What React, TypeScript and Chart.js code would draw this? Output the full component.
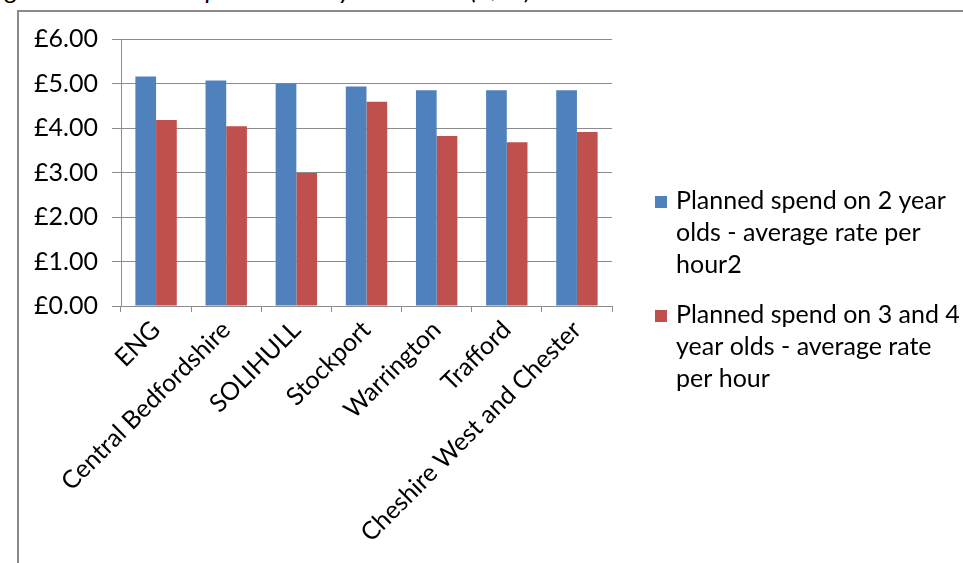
import React, { useEffect, useRef } from "react";
import { Chart, registerables } from "chart.js";

Chart.register(...registerables);

const categories = [
  "ENG",
  "Central Bedfordshire",
  "SOLIHULL",
  "Stockport",
  "Warrington",
  "Trafford",
  "Cheshire West and Chester",
];
const twoYearOlds = [5.16, 5.07, 5.0, 4.93, 4.85, 4.85, 4.85];
const threeFourYearOlds = [4.18, 4.04, 2.99, 4.59, 3.82, 3.68, 3.91];
const seriesLabels = [
  "Planned spend on 2 year olds - average rate per hour2",
  "Planned spend on 3 and 4 year olds - average rate per hour",
];
const legendLines = [
  ["Planned spend on 2 year", "olds - average rate per", "hour2"],
  ["Planned spend on 3 and 4", "year olds - average rate", "per hour"],
];
const titleText = "Figure 14: Planned spend on early education (£/hr)";
const yMin = 0;
const yMax = 6;
const yStep = 1;

const BLUE = "#4F81BD";
const RED = "#C0504D";
const GRID = "#8c8c8c";
const FONT_FAMILY = "Lato, 'Open Sans', sans-serif";

const legendPlugin = {
  id: "wrappedLegend",
  afterDraw(chart: any) {
    const ctx = chart.ctx;
    const colors = [BLUE, RED];
    const firstLineY = [201, 315];
    ctx.save();
    ctx.font = `25px ${FONT_FAMILY}`;
    ctx.textBaseline = "middle";
    ctx.textAlign = "left";
    legendLines.forEach((lines, i) => {
      ctx.fillStyle = colors[i];
      ctx.fillRect(655, firstLineY[i] - 5, 12, 12);
      ctx.fillStyle = "#000";
      lines.forEach((line, j) => {
        ctx.fillText(line, 676, firstLineY[i] + j * 32);
      });
    });
    ctx.restore();
  },
};

export default function App() {
  const canvasRef = useRef<HTMLCanvasElement | null>(null);

  useEffect(() => {
    document.body.style.margin = "0";
    const canvas = canvasRef.current;
    if (!canvas) return;
    const chart = new Chart(canvas, {
      type: "bar",
      data: {
        labels: categories,
        datasets: [
          {
            label: seriesLabels[0],
            data: twoYearOlds,
            backgroundColor: BLUE,
            categoryPercentage: 0.59,
            barPercentage: 1.0,
          },
          {
            label: seriesLabels[1],
            data: threeFourYearOlds,
            backgroundColor: RED,
            categoryPercentage: 0.59,
            barPercentage: 1.0,
          },
        ],
      },
      options: {
        responsive: false,
        maintainAspectRatio: false,
        animation: false,
        layout: { padding: { left: 20, right: 351, top: 39, bottom: 0 } },
        plugins: {
          legend: { display: false },
          tooltip: { enabled: false },
          title: { display: false },
        },
        scales: {
          x: {
            offset: true,
            grid: {
              display: true,
              drawOnChartArea: false,
              drawTicks: true,
              tickLength: 6,
              color: GRID,
              offset: true,
            },
            border: { display: true, color: GRID },
            ticks: {
              font: { family: FONT_FAMILY, size: 25 },
              color: "#000",
              minRotation: 45,
              maxRotation: 45,
              autoSkip: false,
              padding: 3,
            },
            afterFit: (s: any) => {
              s.height = 563 - 306;
            },
          },
          y: {
            min: yMin,
            max: yMax,
            ticks: {
              stepSize: yStep,
              font: { family: FONT_FAMILY, size: 25 },
              color: "#000",
              padding: 14,
              callback: (v: any) => "£" + Number(v).toFixed(2),
            },
            grid: { color: GRID, tickLength: 9, drawTicks: true },
            border: { display: true, color: GRID },
            afterFit: (s: any) => {
              s.width = 101;
            },
          },
        },
      },
      plugins: [legendPlugin],
    });
    return () => chart.destroy();
  }, []);

  return (
    <div style={{ position: "fixed", left: 0, top: 0, width: 963, height: 563, overflow: "hidden", background: "#fff" }}>
      <div
        style={{
          position: "absolute",
          left: -14,
          top: -24,
          fontFamily: FONT_FAMILY,
          fontStyle: "italic",
          fontSize: 26,
          lineHeight: "26px",
          whiteSpace: "nowrap",
          color: "#000",
        }}
      >
        {titleText}
      </div>
      <div
        style={{
          position: "absolute",
          left: 17,
          top: 10,
          width: 963 - 17,
          height: 563 - 10,
          borderLeft: "2px solid #8a8a8a",
          borderTop: "2px solid #8a8a8a",
          boxSizing: "border-box",
        }}
      />
      <canvas ref={canvasRef} width={963} height={563} style={{ position: "absolute", left: 0, top: 0 }} />
    </div>
  );
}
